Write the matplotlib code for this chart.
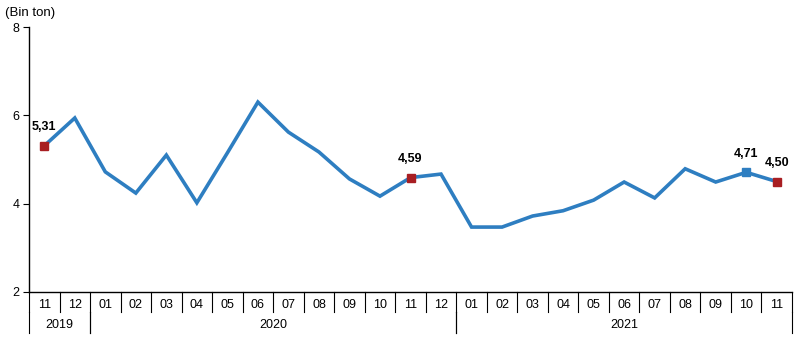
import numpy as np
import matplotlib.pyplot as plt

plt.rcParams['font.family'] = ['Liberation Sans', 'DejaVu Sans']

months = ["11", "12", "01", "02", "03", "04", "05", "06", "07", "08", "09", "10", "11", "12",
          "01", "02", "03", "04", "05", "06", "07", "08", "09", "10", "11"]
years = ["2019", "2020", "2021"]
year_spans = [(0, 2), (2, 14), (14, 25)]  # month index ranges [start, end)
values = [5.31, 5.94, 4.72, 4.24, 5.10, 4.02, 5.15, 6.30, 5.62, 5.17, 4.56, 4.17, 4.59, 4.67,
          3.47, 3.47, 3.72, 3.84, 4.08, 4.49, 4.13, 4.79, 4.49, 4.71, 4.50]
marked = {0: "#A81E22", 12: "#A81E22", 23: "#2E7EC1", 24: "#A81E22"}

line_col = "#2E7EC1"

fig = plt.figure(figsize=(8.01, 3.38), dpi=100)
ax = fig.add_axes([29 / 801, 46 / 338, 763 / 801, 265 / 338])

x = np.arange(len(values))
ax.plot(x, values, color=line_col, lw=2.6, solid_joinstyle="miter", zorder=2)
for i, c in marked.items():
    ax.plot(x[i], values[i], marker="s", ms=6, color=c, mec=c, zorder=3)
    ax.annotate(f"{values[i]:.2f}".replace(".", ","), (x[i], values[i]),
                xytext=(0, 9), textcoords="offset points", ha="center", va="bottom",
                fontsize=9, fontweight="bold")

ax.set_xlim(-0.5, len(values) - 0.5)
ax.set_ylim(2, 8)
ax.set_yticks([2, 4, 6, 8])
ax.tick_params(axis="y", length=4, width=0.8, labelsize=9, pad=3)
ax.set_xticks([])
for s in ["top", "right"]:
    ax.spines[s].set_visible(False)
ax.spines["left"].set_linewidth(1)
ax.spines["bottom"].set_linewidth(1)

ax.text(-0.032, 1.03, "(Bin ton)", transform=ax.transAxes, fontsize=9.5, ha="left", va="bottom")

# category grid under the axis: month row then year row
trans = ax.get_xaxis_transform()
px = 1 / 265
row1 = -20 * px
row2 = -41 * px
for i in range(len(values) + 1):
    ax.plot([i - 0.5, i - 0.5], [0, row1], color="black", lw=0.8, transform=trans, clip_on=False)
for i, m in enumerate(months):
    ax.text(i, -13 * px, m, transform=trans, ha="center", va="center", fontsize=9)
for (a, b), yr in zip(year_spans, years):
    for edge in (a, b):
        ax.plot([edge - 0.5, edge - 0.5], [row1, row2], color="black", lw=0.8,
                transform=trans, clip_on=False)
    ax.text((a + b - 1) / 2, -33 * px, yr, transform=trans, ha="center",
            va="center", fontsize=9)

fig.savefig("out.png", dpi=100)
